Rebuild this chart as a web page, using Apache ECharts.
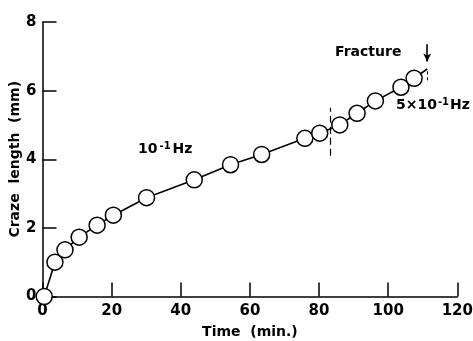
<!DOCTYPE html>
<html>
<head>
<meta charset="utf-8">
<script src="https://cdn.jsdelivr.net/npm/echarts@6/dist/echarts.min.js"></script>
<style>
  html, body { margin: 0; padding: 0; background: #fff; }
  #main { width: 473px; height: 341px; }
</style>
</head>
<body>
<div id="main"></div>
<script>
// craze length vs time
var timeMin = [0.5, 3.6, 6.5, 10.6, 15.8, 20.5, 30.1, 43.9, 54.4, 63.4, 75.9, 80.2, 86.0, 91.0, 96.3, 103.7, 107.5]
var crazeMm = [0, 1.0, 1.36, 1.73, 2.08, 2.37, 2.88, 3.40, 3.84, 4.14, 4.61, 4.76, 5.0, 5.34, 5.70, 6.10, 6.36]
var fracturePoint = [111.3, 6.63]
var switchTime = 83.3
var xTicks = [0, 20, 40, 60, 80, 100, 120]
var yTicks = [0, 2, 4, 6, 8]

var font = '"DejaVu Sans", sans-serif'
var points = timeMin.map(function (t, i) { return [t, crazeMm[i]] })
var lineData = points.concat([fracturePoint])

var chart = echarts.init(document.getElementById('main'))
var option = {
  animation: false,
  backgroundColor: '#fff',
  textStyle: { fontFamily: font, color: '#000' },
  grid: { left: 42.5, right: 15.7, top: 22, bottom: 44.5, containLabel: false, outerBoundsMode: 'none' },
  xAxis: {
    type: 'value',
    min: xTicks[0],
    max: xTicks[xTicks.length - 1],
    interval: 20,
    name: 'Time  (min.)',
    nameLocation: 'middle',
    nameGap: 29,
    nameMoveOverlap: false,
    nameTextStyle: { fontFamily: font, fontWeight: 'bold', fontSize: 14, color: '#000' },
    axisLine: { lineStyle: { color: '#000', width: 1.5 } },
    axisTick: { inside: true, length: 14, lineStyle: { color: '#000', width: 1.5 } },
    axisLabel: { fontFamily: font, fontWeight: 'bold', fontSize: 15, color: '#000', margin: 7 },
    splitLine: { show: false },
  },
  yAxis: {
    type: 'value',
    min: yTicks[0],
    max: yTicks[yTicks.length - 1],
    interval: 2,
    name: 'Craze  length  (mm)',
    nameLocation: 'middle',
    nameGap: 20,
    nameMoveOverlap: false,
    nameTextStyle: { fontFamily: font, fontWeight: 'bold', fontSize: 14, color: '#000' },
    axisLine: { show: true, lineStyle: { color: '#000', width: 1.5 } },
    axisTick: { show: true, inside: true, length: 14, lineStyle: { color: '#000', width: 1.5 } },
    axisLabel: { fontFamily: font, fontWeight: 'bold', fontSize: 15, color: '#000', margin: 6 },
    splitLine: { show: false },
  },
  series: [
    {
      type: 'line',
      data: lineData,
      symbol: 'none',
      lineStyle: { color: '#000', width: 1.6 },
      z: 2,
      markLine: {
        silent: true,
        symbol: 'none',
        label: { show: false },
        data: [
          [
            { coord: [switchTime, 4.1], lineStyle: { color: '#000', width: 1.2, type: [7, 4] } },
            { coord: [switchTime, 5.5] },
          ],
          [
            { coord: [fracturePoint[0], 6.3], lineStyle: { color: '#000', width: 1, type: [3, 3] } },
            { coord: [fracturePoint[0], 6.63] },
          ],
          [
            { coord: [fracturePoint[0], 7.35], symbol: 'none', symbolSize: 0, lineStyle: { color: '#000', width: 1.6, type: 'solid' } },
            { coord: [fracturePoint[0], 6.85], symbol: 'arrow', symbolSize: [6, 8] },
          ],
        ],
      },
    },
    {
      type: 'scatter',
      data: points,
      symbol: 'circle',
      symbolSize: 16,
      itemStyle: { color: '#fff', borderColor: '#000', borderWidth: 1.5, opacity: 1 },
      z: 3,
    },
  ],
  graphic: [
    {
      type: 'text',
      left: 138,
      top: 141,
      style: {
        text: '{b|10}{s|-1}{b|Hz}',
        rich: {
          b: { fontFamily: font, fontWeight: 'bold', fontSize: 14, fill: '#000' },
          s: { fontFamily: font, fontWeight: 'bold', fontSize: 10, fill: '#000', padding: [0, 2, 6, 2] },
        },
      },
    },
    {
      type: 'text',
      left: 396,
      top: 97,
      style: {
        text: '{b|5×10}{s|-1}{b|Hz}',
        rich: {
          b: { fontFamily: font, fontWeight: 'bold', fontSize: 14, fill: '#000' },
          s: { fontFamily: font, fontWeight: 'bold', fontSize: 10, fill: '#000', padding: [0, 1, 6, 1] },
        },
      },
    },
    {
      type: 'text',
      left: 335,
      top: 45,
      style: { text: 'Fracture', fontFamily: font, fontWeight: 'bold', fontSize: 14, fill: '#000' },
    },
  ],
}
chart.setOption(option)
</script>
</body>
</html>
